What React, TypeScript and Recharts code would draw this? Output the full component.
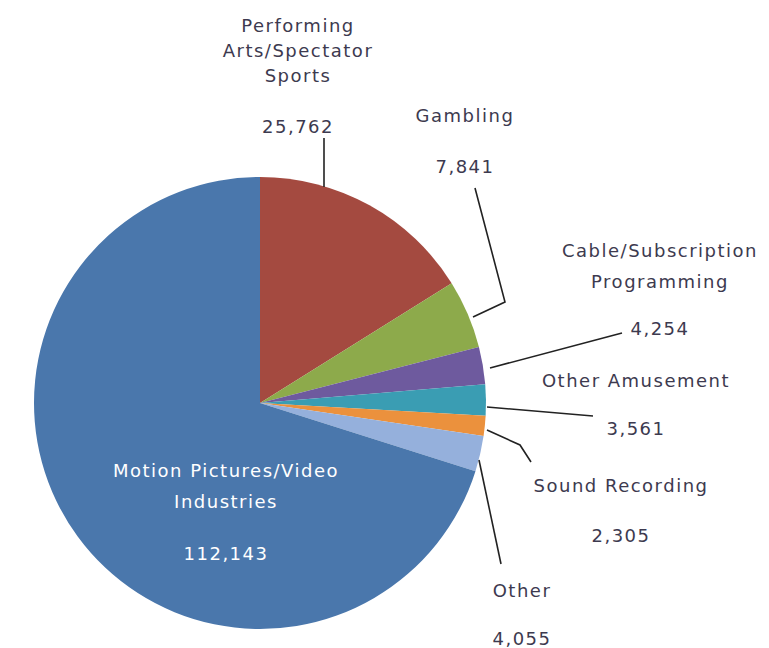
import { PieChart, Pie, Cell } from 'recharts'

const categories = [
  'Performing Arts/Spectator Sports',
  'Gambling',
  'Cable/Subscription Programming',
  'Other Amusement',
  'Sound Recording',
  'Other',
  'Motion Pictures/Video Industries',
]
const values = [25762, 7841, 4254, 3561, 2305, 4055, 112143]
const labelText = [
  ['Performing', 'Arts/Spectator', 'Sports'],
  ['Gambling'],
  ['Cable/Subscription', 'Programming'],
  ['Other Amusement'],
  ['Sound Recording'],
  ['Other'],
  ['Motion Pictures/Video', 'Industries'],
]

const COLORS = ['#A44A40', '#8DAA4B', '#6E5A9E', '#3A9DB3', '#EB913D', '#95B0DC', '#4A77AC']

const data = categories.map((name, i) => ({ name, value: values[i] }))

// label placement, as offsets from the pie centre
const LAYOUT = [
  { x: 38, y: -371, lh: 25, vy: -270, leader: [[64, -265], [64, -216]] },
  { x: 205, y: -281, lh: 25, vy: -230, leader: [[215, -215], [245, -101], [213, -86]] },
  { x: 400, y: -146, lh: 31, vy: -68, leader: [[230, -35], [362, -70]] },
  { x: 376, y: -16, lh: 25, vy: 32, leader: [[227, 4], [333, 13]] },
  { x: 361, y: 89, lh: 25, vy: 139, leader: [[227, 27], [260, 42], [271, 59]] },
  { x: 262, y: 194, lh: 25, vy: 242, leader: [[219, 57], [241, 161]] },
  { x: -34, y: 74, lh: 31, vy: 157, leader: [] },
]

const renderLabel = (props: any) => {
  const { cx, cy, index, value } = props
  const l = LAYOUT[index]
  const color = index === 6 ? '#ffffff' : '#3d3a4f'
  return (
    <g key={`lbl-${index}`}>
      {l.leader.length > 0 && (
        <polyline
          points={l.leader.map(([dx, dy]) => `${cx + dx},${cy + dy}`).join(' ')}
          fill="none"
          stroke="#222"
          strokeWidth={1.6}
        />
      )}
      <text textAnchor="middle" fontFamily="DejaVu Sans" fontSize={18} letterSpacing={1.5} fill={color}>
        {labelText[index].map((t, j) => (
          <tspan key={j} x={cx + l.x} y={cy + l.y + j * l.lh}>{t}</tspan>
        ))}
        <tspan x={cx + l.x} y={cy + l.vy}>{value.toLocaleString('en-US')}</tspan>
      </text>
    </g>
  )
}

export default function App() {
  return (
    <div style={{ position: 'absolute', left: 0, top: 0, background: '#fff' }}>
      <PieChart width={769} height={648}>
        <Pie
          data={data}
          dataKey="value"
          nameKey="name"
          cx={255}
          cy={398}
          outerRadius={226}
          startAngle={90}
          endAngle={-270}
          stroke="none"
          labelLine={false}
          label={renderLabel}
          isAnimationActive={false}
        >
          {data.map((entry, index) => (
            <Cell key={`cell-${index}`} fill={COLORS[index]} />
          ))}
        </Pie>
      </PieChart>
    </div>
  )
}
